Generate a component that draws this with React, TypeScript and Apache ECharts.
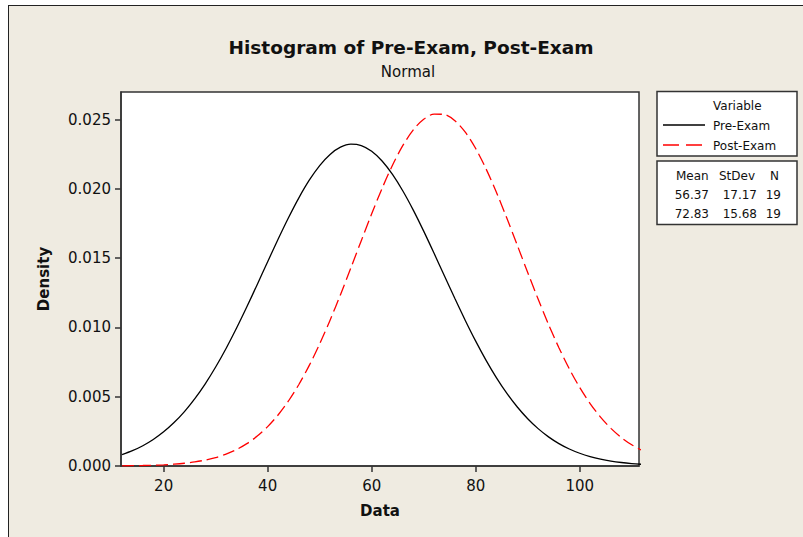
import React, { useEffect, useRef } from "react";
import * as echarts from "echarts";

const xValues = [12, 14, 16, 18, 20, 22, 24, 26, 28, 30, 32, 34, 36, 38, 40, 42, 44, 46, 48, 50, 52, 54, 56, 58, 60, 62, 64, 66, 68, 70, 72, 74, 76, 78, 80, 82, 84, 86, 88, 90, 92, 94, 96, 98, 100, 102, 104, 106, 108, 110, 112];
const preExam = [0.000824, 0.001106, 0.001465, 0.001913, 0.002465, 0.003134, 0.003929, 0.004862, 0.005934, 0.007145, 0.008486, 0.009944, 0.011495, 0.013109, 0.014749, 0.01637, 0.017923, 0.019361, 0.020632, 0.02169, 0.022494, 0.023015, 0.02323, 0.02313, 0.022721, 0.022019, 0.02105, 0.019853, 0.018472, 0.016955, 0.015353, 0.013715, 0.012087, 0.010509, 0.009013, 0.007626, 0.006365, 0.005242, 0.004258, 0.003413, 0.002698, 0.002104, 0.001619, 0.001229, 0.000921, 0.00068, 0.000496, 0.000356, 0.000253, 0.000177, 0.000122];
const postExam = [0.0000137, 0.0000223, 0.0000358, 0.0000563, 0.0000872, 0.000133, 0.000199, 0.000294, 0.000427, 0.00061, 0.000857, 0.001185, 0.001613, 0.002158, 0.002842, 0.003682, 0.004693, 0.005886, 0.007263, 0.008816, 0.010529, 0.012371, 0.014303, 0.016268, 0.018206, 0.020045, 0.021713, 0.023141, 0.024265, 0.025033, 0.025408, 0.025373, 0.024929, 0.024098, 0.022918, 0.021444, 0.019741, 0.017881, 0.015934, 0.01397, 0.012051, 0.010228, 0.00854, 0.007015, 0.00567, 0.004509, 0.003528, 0.002715, 0.002056, 0.001532, 0.001123];
const seriesNames = ["Pre-Exam", "Post-Exam"];
const means = ["56.37", "72.83"];
const stdevs = ["17.17", "15.68"];
const counts = ["19", "19"];
const xTicks = [20, 40, 60, 80, 100];
const yTicks = [0, 0.005, 0.01, 0.015, 0.02, 0.025];

const FONT = "DejaVu Sans";

export default function App() {
  const ref = useRef<HTMLDivElement>(null);
  useEffect(() => {
    if (!ref.current) return;
    const chart = echarts.init(ref.current, null, { renderer: "svg" });
    const txt = (x: number, y: number, text: string, align: string = "left", size = 12) => ({
      type: "text",
      x,
      y,
      style: { text, fill: "#111", font: `${size}px "${FONT}"`, textAlign: align, textVerticalAlign: "middle" },
    });
    const statRows: any[] = [];
    for (let i = 0; i < 2; i++) {
      const y = 195 + i * 19;
      statRows.push(txt(709, y, means[i], "right"));
      statRows.push(txt(757, y, stdevs[i], "right"));
      statRows.push(txt(781, y, counts[i], "right"));
    }
    chart.setOption({
      animation: false,
      backgroundColor: "transparent",
      title: [
        {
          text: "Histogram of Pre-Exam, Post-Exam",
          left: 406,
          top: 33,
          textAlign: "center",
          textStyle: { fontFamily: FONT, fontWeight: "bold", fontSize: 18.5, color: "#111" },
        },
        {
          text: "Normal",
          left: 403,
          top: 59,
          textAlign: "center",
          textStyle: { fontFamily: FONT, fontWeight: "normal", fontSize: 15, color: "#111" },
        },
      ],
      grid: {
        left: 121,
        top: 92,
        right: 164,
        bottom: 71,
        show: true,
        backgroundColor: "#ffffff",
        borderColor: "#333",
        borderWidth: 1.5,
      },
      xAxis: {
        type: "value",
        min: 11.8,
        max: 111.4,
        name: "Data",
        nameLocation: "middle",
        nameGap: 37,
        nameTextStyle: { fontFamily: FONT, fontWeight: "bold", fontSize: 15, color: "#111" },
        axisLine: { show: true, lineStyle: { color: "#333", width: 1.5 } },
        axisTick: { show: true, length: 6, customValues: xTicks, lineStyle: { color: "#333", width: 1.5 } },
        axisLabel: { customValues: xTicks, fontFamily: FONT, fontSize: 15, color: "#111", margin: 12 },
        splitLine: { show: false },
      },
      yAxis: {
        type: "value",
        min: 0,
        max: 0.027,
        name: "Density",
        nameLocation: "middle",
        nameGap: 70,
        nameTextStyle: { fontFamily: FONT, fontWeight: "bold", fontSize: 15, color: "#111" },
        axisLine: { show: true, lineStyle: { color: "#333", width: 1.5 } },
        axisTick: { show: true, length: 6, customValues: yTicks, lineStyle: { color: "#333", width: 1.5 } },
        axisLabel: {
          customValues: yTicks,
          fontFamily: FONT,
          fontSize: 15,
          color: "#111",
          margin: 10,
          formatter: (v: number) => v.toFixed(3),
        },
        splitLine: { show: false },
      },
      series: [
        {
          name: seriesNames[0],
          type: "line",
          data: xValues.map((x, i) => [x, preExam[i]]),
          smooth: 0.3,
          symbol: "none",
          lineStyle: { color: "#000", width: 1.3, type: "solid" },
        },
        {
          name: seriesNames[1],
          type: "line",
          data: xValues.map((x, i) => [x, postExam[i]]),
          smooth: 0.3,
          symbol: "none",
          lineStyle: { color: "#ff0000", width: 1.3, type: [12, 5] },
        },
      ],
      graphic: [
        { type: "rect", shape: { x: 657, y: 91.5, width: 140, height: 64.5 }, style: { fill: "#fff", stroke: "#333", lineWidth: 1.5 } },
        { type: "rect", shape: { x: 657, y: 161, width: 140, height: 63.5 }, style: { fill: "#fff", stroke: "#333", lineWidth: 1.5 } },
        txt(713, 105.5, "Variable"),
        { type: "line", shape: { x1: 663, y1: 125, x2: 705, y2: 125 }, style: { stroke: "#000", lineWidth: 1.3 } },
        txt(713, 125.5, seriesNames[0]),
        { type: "line", shape: { x1: 663, y1: 145, x2: 703, y2: 145 }, style: { stroke: "#ff0000", lineWidth: 1.3, lineDash: [16, 7] } },
        txt(713, 145.5, seriesNames[1]),
        txt(676, 175.5, "Mean"),
        txt(719, 175.5, "StDev"),
        txt(770, 175.5, "N"),
        ...statRows,
      ],
    });
    return () => chart.dispose();
  }, []);
  return (
    <div style={{ position: "fixed", left: 0, top: 0, width: 803, height: 537, background: "#ffffff", overflow: "hidden" }}>
      <div
        style={{
          position: "absolute",
          left: 8,
          top: 4.5,
          width: 820,
          height: 560,
          background: "#EFEBE1",
          borderLeft: "1.5px solid #222",
          borderTop: "1.5px solid #222",
        }}
      />
      <div ref={ref} style={{ position: "absolute", left: 0, top: 0, width: 803, height: 537 }} />
    </div>
  );
}
